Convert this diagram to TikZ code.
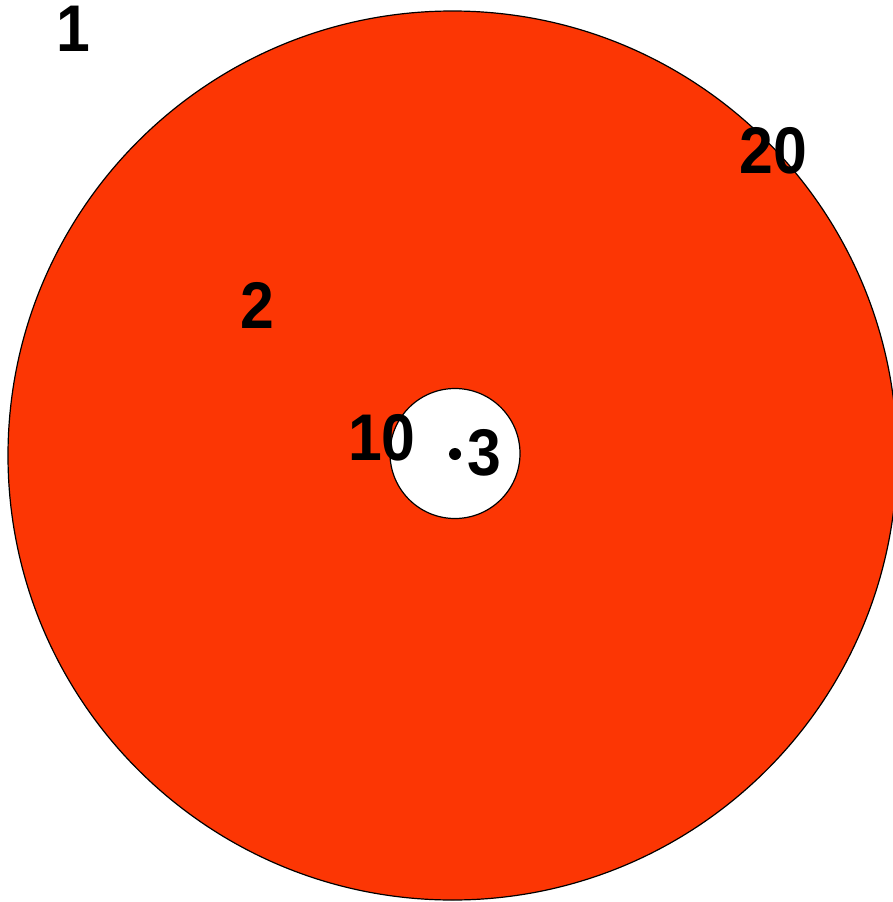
\documentclass[tikz,border=0pt]{standalone}
\usepackage{fontspec}
\setmainfont{Liberation Sans}
\newfontfamily\digitfont[FakeStretch=0.92]{Liberation Sans}
\usetikzlibrary{positioning}
\definecolor{ringred}{RGB}{252,54,4}

\begin{document}
\begin{tikzpicture}[
  x=1pt, y=-1pt,
  lbl/.style={font=\digitfont\fontsize{66}{66}\selectfont\bfseries, inner sep=0pt, anchor=center},
  rim/.style={draw=black, line width=1.2pt}
]
\useasboundingbox (0,0) rectangle (893,902);
\begin{scope}
  \clip (0,0) rectangle (893,902);
  \fill[ringred, rim] (452.5,455.5) circle (444.5);
\end{scope}
\fill[white, rim] (455,453.5) circle (65);
\fill[black] (455,454) circle (6);
\node[lbl] (r1)  at (73,29)   {1};
\node[lbl] (r20) at (773,151) {20};
\node[lbl] (r2)  at (257,305) {2};
\node[lbl] (r10) at (382,438) {10};
\node[lbl] (r3)  at (484,453) {3};
\end{tikzpicture}
\end{document}
